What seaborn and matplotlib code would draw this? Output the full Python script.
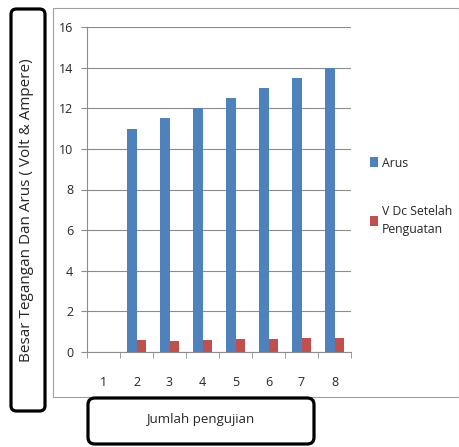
import pandas as pd
import seaborn as sns
import matplotlib.pyplot as plt
from matplotlib.patches import Rectangle, FancyBboxPatch

# values
pengujian = ['1', '2', '3', '4', '5', '6', '7', '8']
arus = [0, 11.0, 11.5, 12.0, 12.5, 13.0, 13.5, 14.0]
v_dc = [0, 0.58, 0.52, 0.58, 0.63, 0.63, 0.70, 0.70]
y_ticks = [0, 2, 4, 6, 8, 10, 12, 14, 16]

df = pd.DataFrame({
    'Jumlah pengujian': pengujian * 2,
    'nilai': arus + v_dc,
    'seri': ['Arus'] * 8 + ['V Dc Setelah\nPenguatan'] * 8,
})

sns.set_style('white')
plt.rcParams['font.family'] = ['Open Sans', 'DejaVu Sans']

fig = plt.figure(figsize=(4.59, 4.47), dpi=100)
W, H = 459, 447

# outer chart frame
fig.patches.append(Rectangle((53 / W, 1 - 397 / H), (W - 53) / W, (397 - 8) / H,
                             transform=fig.transFigure, fill=False,
                             edgecolor='#a0a0a0', linewidth=0.8, zorder=0))

ax = fig.add_axes([87 / W, 1 - 352 / H, (351 - 87) / W, (352 - 27) / H])
sns.barplot(data=df, x='Jumlah pengujian', y='nilai', hue='seri',
            palette=['#4F81BD', '#C0504D'], width=0.6, gap=0,
            saturation=1, linewidth=0, ax=ax, legend=True)

ax.set_ylim(0, 16)
ax.set_xlim(-0.5, 7.5)
ax.set_yticks(y_ticks)
ax.yaxis.grid(True, color='#8c8c8c', linewidth=0.8)
ax.set_axisbelow(True)
for s in ['top', 'right']:
    ax.spines[s].set_visible(False)
for s in ['left', 'bottom']:
    ax.spines[s].set_color('#8c8c8c')
    ax.spines[s].set_linewidth(0.8)

ax.tick_params(axis='y', length=4, color='#8c8c8c', pad=6, labelsize=9, left=True)
ax.tick_params(axis='x', length=0, pad=17, labelsize=9)
ax.set_xticks([i - 0.5 for i in range(9)], minor=True)
ax.tick_params(axis='x', which='minor', length=4, color='#8c8c8c', bottom=True)
ax.set_xlabel('')
ax.set_ylabel('')

leg = ax.legend(loc='upper left', bbox_to_anchor=(1.03, 0.635), frameon=False,
                fontsize=8.8, handlelength=0.7, handleheight=0.9,
                handletextpad=0.3, labelspacing=2.9)
for t in leg.get_texts():
    t.set_linespacing(1.5)

# y label box
fig.patches.append(FancyBboxPatch((11 / W, 1 - 411 / H), 34 / W, (411 - 9) / H,
                                  boxstyle='round,pad=0,rounding_size=0.012',
                                  transform=fig.transFigure, fill=False,
                                  edgecolor='black', linewidth=2.3))
fig.text(27 / W, 1 - 210 / H, 'Besar Tegangan Dan Arus ( Volt & Ampere)',
         rotation=90, ha='center', va='center', fontsize=11)

# x label box
fig.patches.append(FancyBboxPatch((88 / W, 1 - 444 / H), (314 - 88) / W, (444 - 398) / H,
                                  boxstyle='round,pad=0,rounding_size=0.015',
                                  transform=fig.transFigure, fill=False,
                                  edgecolor='black', linewidth=2.3))
fig.text(200 / W, 1 - 420 / H, 'Jumlah pengujian', ha='center', va='center', fontsize=9.5)

plt.savefig('out.png', dpi=100)
plt.close()
